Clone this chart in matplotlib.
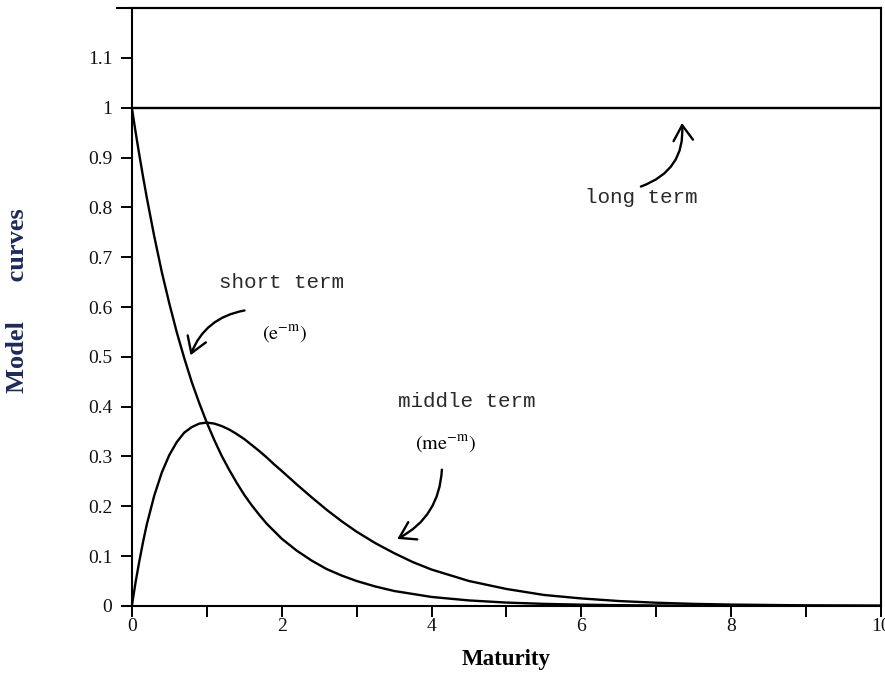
import numpy as np
import matplotlib
matplotlib.use("Agg")
import matplotlib.pyplot as plt
from matplotlib.patches import FancyArrowPatch

# values
maturity = [0, 0.05, 0.1, 0.15, 0.2, 0.3, 0.4, 0.5, 0.6, 0.7, 0.8, 0.9, 1.0,
            1.1, 1.2, 1.3, 1.4, 1.5, 1.6, 1.7, 1.8, 1.9, 2.0,
            2.2, 2.4, 2.6, 2.8, 3.0, 3.25, 3.5, 3.75, 4.0,
            4.5, 5.0, 5.5, 6.0, 6.5, 7.0, 7.5, 8.0, 9.0, 10.0]
short_term = [1.0, 0.951, 0.905, 0.861, 0.819, 0.741, 0.670, 0.607, 0.549, 0.497, 0.449, 0.407, 0.368,
              0.333, 0.301, 0.273, 0.247, 0.223, 0.202, 0.183, 0.165, 0.150, 0.135,
              0.111, 0.091, 0.074, 0.061, 0.050, 0.039, 0.030, 0.024, 0.018,
              0.011, 0.0067, 0.0041, 0.0025, 0.0015, 0.0009, 0.0006, 0.0003, 0.0001, 0.0]
middle_term = [0.0, 0.048, 0.090, 0.129, 0.164, 0.222, 0.268, 0.303, 0.329, 0.348, 0.359, 0.366, 0.368,
               0.366, 0.361, 0.354, 0.345, 0.335, 0.323, 0.311, 0.298, 0.284, 0.271,
               0.244, 0.218, 0.193, 0.170, 0.149, 0.126, 0.106, 0.088, 0.073,
               0.050, 0.034, 0.022, 0.015, 0.0098, 0.0064, 0.0041, 0.0027, 0.0011, 0.0005]
long_term = [1.0] * len(maturity)

y_ticks = [0, 0.1, 0.2, 0.3, 0.4, 0.5, 0.6, 0.7, 0.8, 0.9, 1.0, 1.1]
y_tick_labels = ["0", "0.1", "0.2", "0.3", "0.4", "0.5", "0.6", "0.7", "0.8", "0.9", "1", "1.1"]
x_ticks = [0, 2, 4, 6, 8, 10]

plt.rcParams["mathtext.fontset"] = "stix"

fig = plt.figure(figsize=(8.85, 6.77), dpi=100)
ax = fig.add_axes([0.149, 0.105, 0.8465, 0.883])

ax.plot(maturity, short_term, color="black", lw=1.7)
ax.plot(maturity, middle_term, color="black", lw=1.7)
ax.plot(maturity, long_term, color="black", lw=1.7)

ax.set_xlim(0, 10)
ax.set_ylim(0, 1.2)

ax.set_yticks(y_ticks)
ax.set_yticklabels(y_tick_labels)
ax.set_xticks(x_ticks)
ax.set_xticks([1, 3, 5, 7, 9], minor=True)

for lab in ax.get_xticklabels() + ax.get_yticklabels():
    lab.set_family("Liberation Serif")
    lab.set_fontsize(14)
    lab.set_color("#111111")

ax.tick_params(which="both", direction="out", length=8, width=1.4)
ax.tick_params(axis="x", pad=1)
ax.tick_params(axis="y", pad=6)
for sp in ax.spines.values():
    sp.set_linewidth(1.5)

# top border and x axis run slightly past the y axis, like the scan
ax.plot([-0.02, 1], [1, 1], transform=ax.transAxes, color="black", lw=1.5, clip_on=False)
ax.plot([-0.013, 0], [0, 0], transform=ax.transAxes, color="black", lw=1.5, clip_on=False)

ax.set_xlabel("Maturity", family="Liberation Serif", fontsize=16.5, fontweight="bold")
ax.xaxis.set_label_coords(0.5, -0.072)
ax.set_ylabel("Model      curves", family="Liberation Serif", fontsize=19,
              fontweight="bold", color="#1c2b5a")
ax.yaxis.set_label_coords(-0.137, 0.51)

# annotations
mono = dict(family="Liberation Mono", fontsize=15, color="#2a2a2a", ha="center", va="center")
ax.text(6.80, 0.82, "long term", **mono)
ax.text(2.00, 0.65, "short term", **mono)
ax.text(4.47, 0.41, "middle term", **mono)
ax.text(2.04, 0.545, r"$(\mathrm{e}^{-\mathrm{m}})$", fontsize=14.5, ha="center", va="center")
ax.text(4.18, 0.325, r"$(\mathrm{me}^{-\mathrm{m}})$", fontsize=14.5, ha="center", va="center")

arrow_kw = dict(arrowstyle="->,head_length=0.55,head_width=0.35", mutation_scale=20,
                color="black", lw=1.7)
ax.add_patch(FancyArrowPatch((6.76, 0.84), (7.34, 0.975),
                             connectionstyle="arc3,rad=0.4", **arrow_kw))
ax.add_patch(FancyArrowPatch((1.54, 0.594), (0.77, 0.498),
                             connectionstyle="arc3,rad=0.3", **arrow_kw))
ax.add_patch(FancyArrowPatch((4.14, 0.279), (3.51, 0.132),
                             connectionstyle="arc3,rad=-0.3", **arrow_kw))

plt.savefig("out.png", dpi=100)
